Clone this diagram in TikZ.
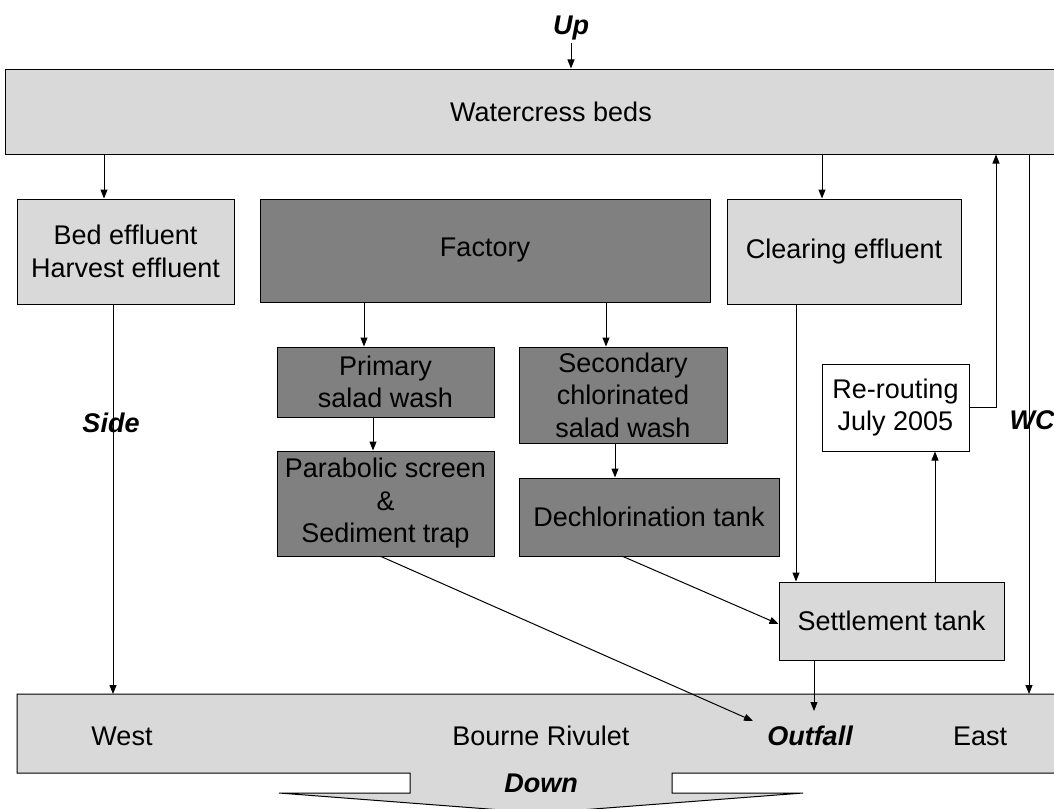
\documentclass[tikz,border=0pt]{standalone}
\usepackage{fontspec}
\setmainfont{Liberation Sans}
\usetikzlibrary{arrows.meta,calc}
\definecolor{lgray}{HTML}{D9D9D9}
\definecolor{dgray}{HTML}{808080}
\begin{document}
\begin{tikzpicture}[x=1pt,y=-1pt,
  txt/.style={font=\fontsize{27}{32.5}\selectfont},
  box/.style={draw=black, line width=1pt, inner sep=0pt, align=center, txt},
  light/.style={box, fill=lgray},
  dark/.style={box, fill=dgray},
  lab/.style={inner sep=0pt, txt},
  blab/.style={inner sep=0pt, font=\fontsize{27}{32.5}\selectfont\bfseries\itshape},
  arr/.style={line width=1pt, -{Triangle[length=9pt,width=7pt]}},
  ln/.style={line width=1pt}]
\useasboundingbox (0,0) rectangle (1054,808);
\clip (0,0) rectangle (1054,808);

% boxes
\node[light, minimum width=1092pt, minimum height=85pt] (beds) at (551,111.5) {Watercress beds};
\node[light, minimum width=217pt, minimum height=105pt] (bed) at (125.5,251.5) {Bed effluent\\Harvest effluent};
\node[dark, minimum width=450pt, minimum height=103pt] (fac) at (485,250.5) {Factory};
\node[light, minimum width=234pt, minimum height=105pt] (clear) at (844,251.5) {Clearing effluent};
\node[dark, minimum width=217pt, minimum height=70pt] (prim) at (385.5,382) {Primary\\salad wash};
\node[dark, minimum width=208pt, minimum height=96pt] (sec) at (623,395) {Secondary\\chlorinated\\salad wash};
\node[dark, minimum width=217pt, minimum height=105pt] (para) at (385.5,503.5) {Parabolic screen\\\&\\Sediment trap};
\node[dark, minimum width=260pt, minimum height=78pt] (dech) at (649,517) {Dechlorination tank};
\node[light, minimum width=225pt, minimum height=78pt] (settle) at (891.5,621) {Settlement tank};
\node[box, fill=white, minimum width=147pt, minimum height=87pt] (rer) at (895.5,407.5) {Re-routing\\July 2005};

% river with downstream arrow
\path[draw=black, line width=1pt, fill=lgray] (17,694) -- (1110,694) -- (1110,773) -- (672,773) -- (672,793) -- (803,793) -- (541,813) -- (279,793) -- (410,793) -- (410,773) -- (17,773) -- cycle;
\coordinate (rivtop) at (0,694);
\coordinate (outA) at (753,721);
\coordinate (outB) at (814,711);

% helper x positions
\coordinate (xa) at (104,0);
\coordinate (xb) at (113,0);
\coordinate (xc) at (381,0);
\coordinate (xd) at (623,0);
\coordinate (xe) at (796,0);
\coordinate (xf) at (935,0);
\coordinate (xg) at (996,0);
\coordinate (xh) at (1029,0);
\coordinate (xi) at (814,0);
\coordinate (xj) at (364,0);
\coordinate (xk) at (606,0);
\coordinate (xl) at (373,0);
\coordinate (xm) at (615,0);
\coordinate (xn) at (822,0);

% labels
\node[blab] (up) at (571,28) {Up};
\node[lab] (west) at (122,736) {West};
\node[lab] (bourne) at (541,736) {Bourne Rivulet};
\node[blab] (outfall) at (810,736) {Outfall};
\node[lab] (east) at (980,736) {East};
\node[blab] (down) at (541,783) {Down};

% connectors
\draw[arr] ([yshift=-3pt]up.south) -- (up.south |- beds.north);
\draw[arr] (xa |- beds.south) -- (xa |- bed.north);
\draw[arr] (xn |- beds.south) -- (xn |- clear.north);
\draw[arr] (xb |- bed.south) -- (xb |- rivtop);
\draw[arr] (xj |- fac.south) -- (xj |- prim.north);
\draw[arr] (xk |- fac.south) -- (xk |- sec.north);
\draw[arr] (xl |- prim.south) -- (xl |- para.north);
\draw[arr] (xm |- sec.south) -- (xm |- dech.north);
\draw[arr] (xc |- para.south) -- (outA);
\draw[arr] (xd |- dech.south) -- ([yshift=-3pt]settle.west);
\draw[arr] (xe |- clear.south) -- (xe |- settle.north);
\draw[arr] (xf |- settle.north) -- (xf |- rer.south);
\draw[arr] (rer.east) -| (xg |- beds.south);
\draw[arr] (xh |- beds.south) -- (xh |- rivtop);
\draw[arr] (xi |- settle.south) -- (outB);

\node[blab] (side) at (111,423) {Side};
\node[blab] (wc) at (1032,420) {WC};
\end{tikzpicture}
\end{document}
